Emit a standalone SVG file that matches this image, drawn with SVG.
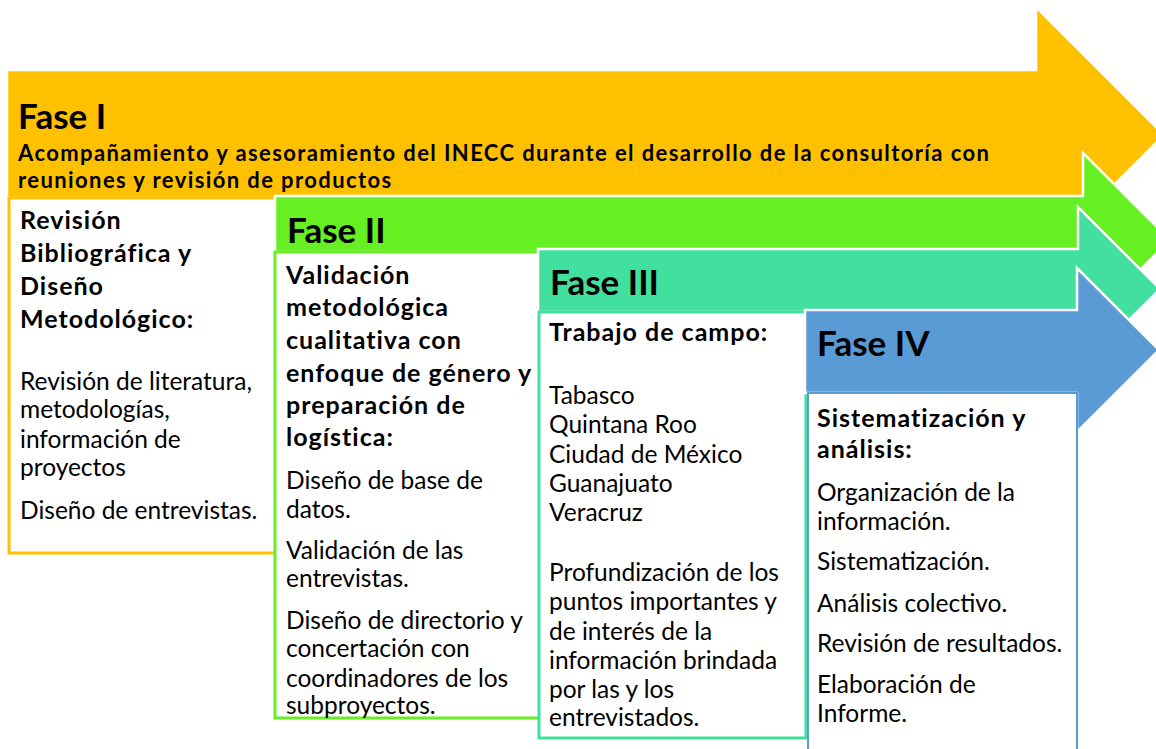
<svg xmlns="http://www.w3.org/2000/svg" width="1156" height="749" viewBox="0 0 1156 749">
<style>
text{font-family:Lato,"Liberation Sans",sans-serif;fill:#000}
.h{font-size:35px;font-weight:700}
.s{font-size:22px;font-weight:700;letter-spacing:1.4px}
.b{font-size:25px;font-weight:700;letter-spacing:1px}
.r{font-size:24.5px}
.arrow{stroke:#fff;stroke-width:2.5;stroke-linejoin:miter}
.box{fill:#fff;stroke-width:3}
</style>
<rect width="1156" height="749" fill="#fff"/>
<g id="fase1">
<polygon class="arrow" fill="#FFC000" points="7,70 1036,70 1036,7 1164,135 1036,263 1036,198 7,198"/>
<rect class="box" x="9" y="198" width="290" height="355" stroke="#FFC000"/>
<text class="h" x="18" y="129">Fase I</text>
<text class="s" x="18" y="161">Acompañamiento y asesoramiento del INECC durante el desarrollo de la consultoría con</text>
<text class="s" x="18" y="188">reuniones y revisión de productos</text>
<text class="b" x="20" y="229">Revisión</text>
<text class="b" x="20" y="262">Bibliográfica y</text>
<text class="b" x="20" y="295">Diseño</text>
<text class="b" x="20" y="328">Metodológico:</text>
<text class="r" x="20" y="390">Revisión de literatura,</text>
<text class="r" x="20" y="418">metodologías,</text>
<text class="r" x="20" y="448">información de</text>
<text class="r" x="20" y="476">proyectos</text>
<text class="r" x="20" y="519">Diseño de entrevistas.</text>
</g>
<g id="fase2">
<polygon class="arrow" fill="#66EF22" points="275,196 1083,196 1083,153 1170,240 1083,327 1083,252 275,252"/>
<rect class="box" x="275" y="252" width="290" height="466" stroke="#66EF22"/>
<text class="h" x="287" y="243">Fase II</text>
<text class="b" x="286" y="284">Validación</text>
<text class="b" x="286" y="316">metodológica</text>
<text class="b" x="286" y="349">cualitativa con</text>
<text class="b" x="286" y="382">enfoque de género y</text>
<text class="b" x="286" y="414">preparación de</text>
<text class="b" x="286" y="446">logística:</text>
<text class="r" x="286" y="489">Diseño de base de</text>
<text class="r" x="286" y="518">datos.</text>
<text class="r" x="286" y="559">Validación de las</text>
<text class="r" x="286" y="587">entrevistas.</text>
<text class="r" x="286" y="629">Diseño de directorio y</text>
<text class="r" x="286" y="657">concertación con</text>
<text class="r" x="286" y="687">coordinadores de los</text>
<text class="r" x="286" y="714">subproyectos.</text>
</g>
<g id="fase3">
<polygon class="arrow" fill="#42E09E" points="538,249 1078,249 1078,207 1160,289 1078,371 1078,312 538,312"/>
<rect class="box" x="539" y="312" width="267" height="426" stroke="#42E09E"/>
<text class="h" x="550" y="295">Fase III</text>
<text class="b" x="549" y="341">Trabajo de campo:</text>
<text class="r" x="549" y="404">Tabasco</text>
<text class="r" x="549" y="433">Quintana Roo</text>
<text class="r" x="549" y="463">Ciudad de México</text>
<text class="r" x="549" y="492">Guanajuato</text>
<text class="r" x="549" y="521">Veracruz</text>
<text class="r" x="549" y="581">Profundización de los</text>
<text class="r" x="549" y="610">puntos importantes y</text>
<text class="r" x="549" y="640">de interés de la</text>
<text class="r" x="549" y="669">información brindada</text>
<text class="r" x="549" y="698">por las y los</text>
<text class="r" x="549" y="726">entrevistados.</text>
</g>
<g id="fase4">
<polygon class="arrow" fill="#5B9BD5" points="805,310 1077,310 1077,268 1159,350 1077,432 1077,393 805,393"/>
<rect x="808" y="393" width="269" height="370" fill="#fff" stroke="#5B9BD5" stroke-width="2"/>
<text class="h" x="817" y="356">Fase IV</text>
<text class="b" x="817" y="427">Sistematización y</text>
<text class="b" x="817" y="458">análisis:</text>
<text class="r" x="817" y="501">Organización de la</text>
<text class="r" x="817" y="530">información.</text>
<text class="r" x="817" y="570">Sistematización.</text>
<text class="r" x="817" y="612">Análisis colectivo.</text>
<text class="r" x="817" y="652">Revisión de resultados.</text>
<text class="r" x="817" y="693">Elaboración de</text>
<text class="r" x="817" y="722">Informe.</text>
</g>
<g id="connectors"/>
</svg>
